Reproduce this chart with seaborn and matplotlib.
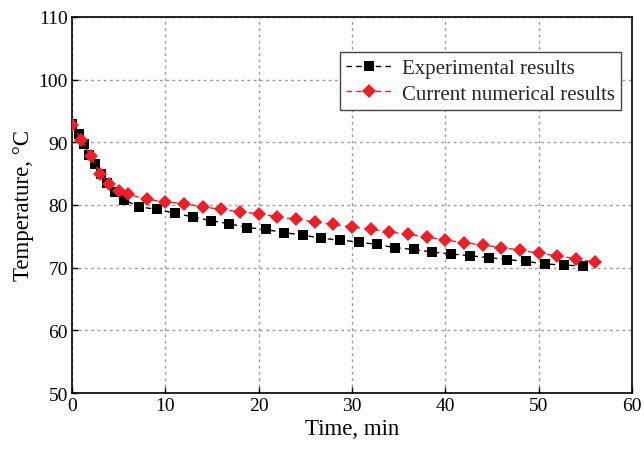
import matplotlib
matplotlib.use("Agg")
import matplotlib.pyplot as plt
import seaborn as sns
import pandas as pd

exp_time = [0, 0.8, 1.25, 1.85, 2.45, 3.1, 3.7, 4.6, 5.6, 7.2, 9.15, 11.0, 12.95, 14.9,
            16.85, 18.8, 20.75, 22.7, 24.7, 26.7, 28.7, 30.7, 32.65, 34.6, 36.6, 38.6,
            40.6, 42.6, 44.7, 46.6, 48.6, 50.7, 52.7, 54.7]
exp_temp = [93.0, 91.4, 89.8, 88.0, 86.6, 84.9, 83.5, 82.0, 80.8, 79.7, 79.3, 78.7, 78.1, 77.5,
            77.0, 76.4, 76.1, 75.6, 75.2, 74.7, 74.4, 74.1, 73.7, 73.2, 72.9, 72.5,
            72.2, 71.9, 71.6, 71.3, 71.0, 70.6, 70.4, 70.3]

num_time = [0, 1, 2, 3, 4, 5, 6, 8, 10, 12, 14, 16, 18, 20, 22, 24, 26, 28, 30, 32, 34,
            36, 38, 40, 42, 44, 46, 48, 50, 52, 54, 56]
num_temp = [92.8, 90.4, 87.8, 85.0, 83.4, 82.3, 81.7, 80.9, 80.5, 80.2, 79.7, 79.3, 78.9,
            78.6, 78.1, 77.7, 77.3, 76.9, 76.5, 76.1, 75.7, 75.3, 74.9, 74.4, 74.0, 73.6,
            73.2, 72.8, 72.3, 71.9, 71.4, 70.9]

labels = ["Experimental results", "Current numerical results"]
xticks = [0, 10, 20, 30, 40, 50, 60]
yticks = [50, 60, 70, 80, 90, 100, 110]

sns.set_theme(style="ticks")
plt.rcParams["font.family"] = ["Liberation Serif", "DejaVu Serif"]

fig = plt.figure(figsize=(6.44, 4.52), dpi=100)
ax = fig.add_axes([0.1118, 0.1283, 0.8696, 0.8319])

df_exp = pd.DataFrame({"t": exp_time, "T": exp_temp})
df_num = pd.DataFrame({"t": num_time, "T": num_temp})

sns.lineplot(data=df_exp, x="t", y="T", ax=ax, color="black", linestyle=(0, (4, 3)),
             linewidth=1.0, marker="s", markersize=6.5, markeredgewidth=0,
             label=labels[0], zorder=3)
sns.lineplot(data=df_num, x="t", y="T", ax=ax, color="#e8202a", linestyle=(0, (4, 3)),
             linewidth=1.0, marker="D", markersize=7, markeredgewidth=0,
             label=labels[1], zorder=4)

ax.set_xlim(0, 60)
ax.set_ylim(50, 110)
ax.set_xticks(xticks)
ax.set_yticks(yticks)
ax.grid(True, color="#9a9a9a", linestyle=(0, (2, 2.5)), linewidth=1.0)
ax.tick_params(direction="in", length=4, width=1, labelsize=14, colors="black",
               top=False, right=False, pad=3)
for s in ax.spines.values():
    s.set_color("black")
    s.set_linewidth(1.2)
ax.set_xlabel("Time, min", fontsize=16.5, color="black", labelpad=3)
ax.set_ylabel("Temperature, °C", fontsize=16.5, color="black", labelpad=3)

leg = ax.legend(loc="upper right", bbox_to_anchor=(0.981, 0.907), fontsize=15,
                frameon=True, fancybox=False, framealpha=1, edgecolor="#444444",
                handlelength=2.2, borderpad=0.3, labelspacing=0.3, handletextpad=0.5,
                borderaxespad=0)
leg.get_frame().set_linewidth(1.0)

fig.savefig("out.png", dpi=100)
